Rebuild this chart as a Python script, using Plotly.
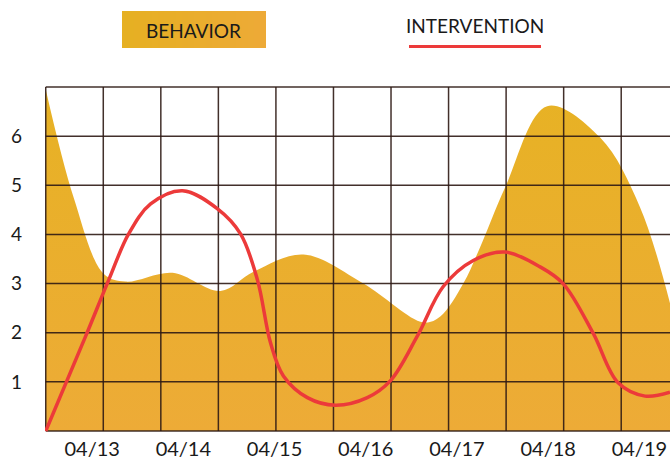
import plotly.graph_objects as go

# ---- data (x in days from 04/13) ----
date_labels = ["04/13", "04/14", "04/15", "04/16", "04/17", "04/18", "04/19"]
date_pos = [0, 1, 2, 3, 4, 5, 6]

behavior_x = [-0.509, -0.203, 0.126, 0.367, 0.882, 1.407, 1.769, 2.317, 2.974,
              3.631, 3.817, 4.069, 4.254, 4.529, 4.989, 5.570, 6.008, 6.336]
behavior_y = [6.95, 4.75, 3.20, 3.04, 3.22, 2.85, 3.24, 3.59, 3.00,
              2.21, 2.33, 3.00, 3.74, 4.96, 6.61, 5.97, 4.55, 2.60]

intervention_x = [-0.509, -0.071, 0.181, 0.400, 0.641, 0.991, 1.375, 1.627, 1.813,
                  1.955, 2.097, 2.360, 2.667, 3.017, 3.269, 3.565, 3.850, 4.179,
                  4.529, 4.912, 5.164, 5.493, 5.767, 6.063, 6.336]
intervention_y = [0.0, 1.93, 3.07, 4.01, 4.62, 4.89, 4.52, 4.01, 3.07,
                  1.80, 1.12, 0.68, 0.525, 0.68, 1.02, 1.93, 2.94, 3.47,
                  3.64, 3.34, 3.00, 1.99, 0.98, 0.71, 0.79]

y_ticks = [1, 2, 3, 4, 5, 6]

# ---- layout constants ----
X_MIN, X_MAX = -0.509, 6.336
Y_MIN, Y_MAX = 0, 7
GRID_STEP_X = 0.631
grid_x = [X_MIN + k * GRID_STEP_X for k in range(11)]
grid_y = list(range(Y_MIN, Y_MAX + 1))

GOLD_TOP = "#E7B224"
GOLD_BOTTOM = "#EDAB37"
LEG_LEFT = (230, 176, 34)
LEG_RIGHT = (237, 170, 55)
RED = "#EC3A3A"
GRID = "rgba(45,25,20,0.9)"
FONT = "Lato"

FIG_W, FIG_H = 670, 460
PLOT_L, PLOT_T, PLOT_R, PLOT_B = 45, 86, 670, 432   # page pixels

fig = go.Figure()

fig.add_trace(go.Scatter(
    x=behavior_x, y=behavior_y, mode="lines",
    line=dict(shape="spline", smoothing=1.0, width=0, color=GOLD_TOP),
    fill="tozeroy",
    fillgradient=dict(type="vertical", start=0, stop=7,
                      colorscale=[[0, GOLD_BOTTOM], [1, GOLD_TOP]]),
    hoverinfo="skip", showlegend=False,
))

# grid drawn above the fill
gx, gy = [], []
for xv in grid_x:
    gx += [xv, xv, None]
    gy += [Y_MIN, Y_MAX, None]
for yv in grid_y:
    gx += [X_MIN, X_MAX, None]
    gy += [yv, yv, None]
fig.add_trace(go.Scatter(x=gx, y=gy, mode="lines",
                         line=dict(color=GRID, width=1.5),
                         hoverinfo="skip", showlegend=False))

fig.add_trace(go.Scatter(
    x=intervention_x, y=intervention_y, mode="lines",
    line=dict(shape="spline", smoothing=1.0, width=3.5, color=RED),
    hoverinfo="skip", showlegend=False,
))

fig.update_layout(
    width=FIG_W, height=FIG_H,
    margin=dict(l=PLOT_L, r=FIG_W - PLOT_R, t=PLOT_T, b=FIG_H - PLOT_B, pad=0,
                autoexpand=False),
    paper_bgcolor="white", plot_bgcolor="white",
    showlegend=False,
    font=dict(family=FONT, color="#1a1a1a"),
    xaxis=dict(range=[X_MIN - 0.008, X_MAX], showgrid=False, zeroline=False,
               showline=False, ticks="", tickvals=date_pos, ticktext=date_labels,
               tickfont=dict(size=20, family=FONT, color="#1a1a1a"),
               ticklabelstandoff=3, automargin=False),
    yaxis=dict(range=[Y_MIN - 0.02, Y_MAX + 0.02], showgrid=False, zeroline=False,
               showline=False, ticks="", tickvals=y_ticks,
               ticktext=[str(v) for v in y_ticks],
               tickfont=dict(size=19, family=FONT, color="#1a1a1a"),
               ticklabelstandoff=22, automargin=False),
)

# legend drawn by hand (positions in page pixels -> paper coords)
def px_x(px):
    return (px - PLOT_L) / (PLOT_R - PLOT_L)

def px_y(py):
    return (PLOT_B - py) / (PLOT_B - PLOT_T)

# horizontal gradient legend swatch built from thin slices
N_SLICES = 24
BOX_L, BOX_R, BOX_T, BOX_B = 122, 266, 11, 48
for i in range(N_SLICES):
    t = i / (N_SLICES - 1)
    col = "rgb({},{},{})".format(*[round(a + (b - a) * t) for a, b in zip(LEG_LEFT, LEG_RIGHT)])
    xa = BOX_L + (BOX_R - BOX_L) * i / N_SLICES
    xb = BOX_L + (BOX_R - BOX_L) * (i + 1) / N_SLICES + 0.5
    fig.add_shape(type="rect", xref="paper", yref="paper",
                  x0=px_x(xa), x1=px_x(min(xb, BOX_R)), y0=px_y(BOX_B), y1=px_y(BOX_T),
                  fillcolor=col, line=dict(width=0))
fig.add_annotation(xref="paper", yref="paper", x=px_x(193), y=px_y(30),
                   text="BEHAVIOR", showarrow=False,
                   font=dict(family=FONT, size=19, color="#1a1a1a"),
                   xanchor="center", yanchor="middle")
fig.add_annotation(xref="paper", yref="paper", x=px_x(475), y=px_y(25),
                   text="INTERVENTION", showarrow=False,
                   font=dict(family=FONT, size=19, color="#1a1a1a"),
                   xanchor="center", yanchor="middle")
fig.add_shape(type="line", xref="paper", yref="paper",
              x0=px_x(409), x1=px_x(541), y0=px_y(46.5), y1=px_y(46.5),
              line=dict(color=RED, width=3))

# remove the default page margin so the figure sits at the window's top-left
fig.write_html(
    "out.html",
    config={"displayModeBar": False, "staticPlot": True},
    post_script="document.body.style.margin='0';"
                "document.body.style.overflow='hidden';"
                "document.documentElement.style.overflow='hidden';",
)
